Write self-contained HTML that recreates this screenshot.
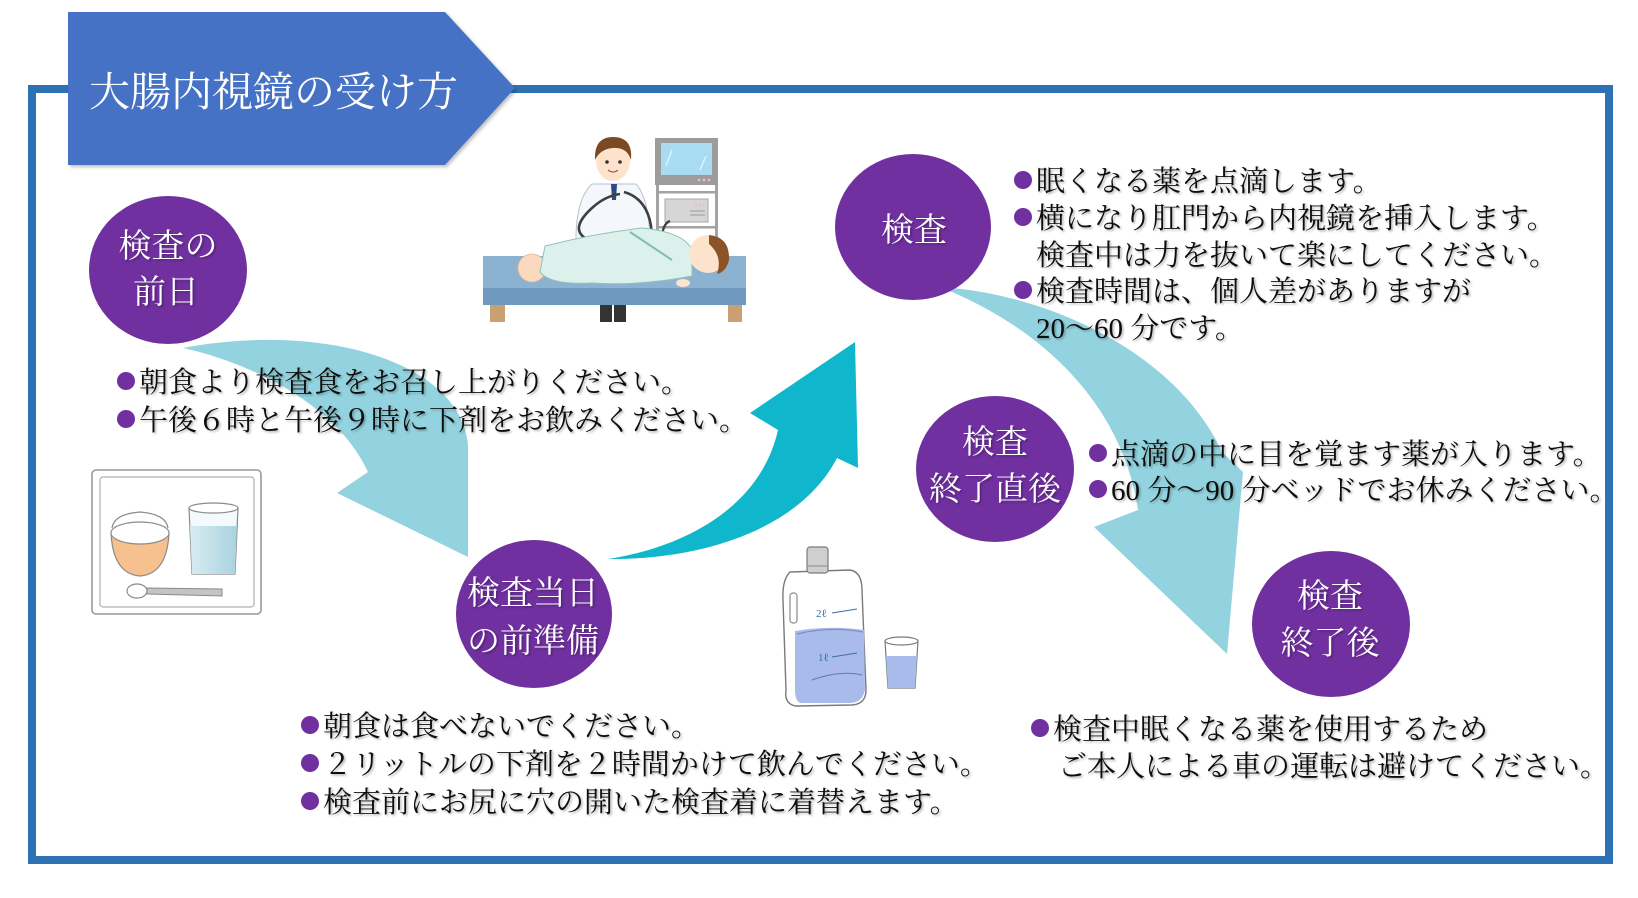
<!DOCTYPE html>
<html lang="ja">
<head>
<meta charset="utf-8">
<title>大腸内視鏡の受け方</title>
<style>
  html, body { margin: 0; padding: 0; background: #ffffff; }
  svg { display: block; }
  .body { font-family: "Liberation Serif", "Noto Serif CJK SC", serif; font-size: 29px; fill: #111; }
  .lbl { font-family: "Liberation Serif", "Noto Serif CJK SC", serif; font-size: 33px; fill: #ffffff; }
  .ttl { font-family: "Liberation Serif", "Noto Serif CJK SC", serif; font-size: 41px; fill: #ffffff; }
</style>
</head>
<body>
<svg width="1638" height="898" viewBox="0 0 1638 898" xmlns="http://www.w3.org/2000/svg">
  <defs>
    <filter id="sh" x="-5%" y="-20%" width="110%" height="140%">
      <feDropShadow dx="1.5" dy="1.5" stdDeviation="1" flood-color="#000" flood-opacity="0.3"/>
    </filter>
    <filter id="bs" x="-10%" y="-10%" width="120%" height="120%">
      <feDropShadow dx="2" dy="2" stdDeviation="1.5" flood-color="#000" flood-opacity="0.25"/>
    </filter>
    <linearGradient id="glassW" x1="0" y1="0" x2="1" y2="0">
      <stop offset="0" stop-color="#d7ecf2"/>
      <stop offset="1" stop-color="#a9d3e0"/>
    </linearGradient>
  </defs>

  <!-- outer frame -->
  <rect x="32" y="89" width="1577" height="771" fill="none" stroke="#2E72B4" stroke-width="8"/>

  <!-- title banner -->
  <polygon points="68,12 445,12 515,88 445,165 68,165" fill="#4472C4" filter="url(#bs)"/>
  <text class="ttl" x="89" y="106">大腸内視鏡の受け方</text>

  <!-- ===== arrows ===== -->
  <path d="M183,348 C320,322 460,360 468,445 L468,557 L337,493 L368,472 C340,410 260,365 183,348 Z" fill="#93D3DF"/>
  <path d="M608,559 C680,548 760,510 778,430 L750,413 L855,342 L858,468 L837,458 C800,530 700,560 608,559 Z" fill="#10B6CB"/>
  <path d="M940,287 C1060,295 1180,360 1222,452 L1243,472 L1227,654 L1094,527 L1138,510 C1125,420 1060,335 940,287 Z" fill="#93D3DF"/>

  <!-- ===== illustration: doctor & bed ===== -->
  <g>
    <!-- monitor -->
    <rect x="655" y="138" width="63" height="47" fill="#9c9c9c"/>
    <rect x="661" y="143" width="51" height="32" fill="#a9dcf3"/>
    <line x1="672" y1="150" x2="666" y2="166" stroke="#e6f6fd" stroke-width="1.2"/>
    <line x1="706" y1="156" x2="700" y2="170" stroke="#e6f6fd" stroke-width="1.2"/>
    <circle cx="699" cy="180" r="1.4" fill="#f3b7c7"/>
    <circle cx="704" cy="180" r="1.4" fill="#f3b7c7"/>
    <circle cx="709" cy="180" r="1.4" fill="#f3b7c7"/>
    <!-- cart -->
    <rect x="656" y="185" width="3" height="60" fill="#a3a3a3"/>
    <rect x="715" y="185" width="3" height="60" fill="#a3a3a3"/>
    <rect x="656" y="191" width="62" height="2.5" fill="#a3a3a3"/>
    <rect x="665" y="199" width="43" height="23" fill="#d6d6d6" stroke="#a9a9a9" stroke-width="1"/>
    <circle cx="696" cy="205" r="1.2" fill="#f3b7c7"/>
    <circle cx="700" cy="205" r="1.2" fill="#f3b7c7"/>
    <circle cx="704" cy="205" r="1.2" fill="#f3b7c7"/>
    <line x1="690" y1="211" x2="705" y2="211" stroke="#999" stroke-width="1"/>
    <line x1="690" y1="215" x2="705" y2="215" stroke="#999" stroke-width="1"/>
    <rect x="656" y="226" width="62" height="2.5" fill="#a3a3a3"/>
    <!-- doctor -->
    <path d="M592,184 L636,184 Q650,200 650,245 L576,245 Q575,200 592,184 Z" fill="#f4f7fb" stroke="#b7c1ce" stroke-width="1"/>
    <path d="M611,184 L617,184 L616,200 L612,200 Z" fill="#2b4a8a"/>
    <ellipse cx="613" cy="161" rx="17" ry="20" fill="#fde3cc"/>
    <path d="M595,160 Q594,137 613,137 Q633,137 631,160 Q627,147 613,148 Q600,149 595,160 Z" fill="#7b4a22"/>
    <circle cx="607" cy="162" r="1.8" fill="#333"/>
    <circle cx="620" cy="162" r="1.8" fill="#333"/>
    <path d="M608,170 Q613,174 618,170" fill="none" stroke="#b06050" stroke-width="1.2"/>
    <!-- scope cable -->
    <path d="M620,194 Q605,196 592,208 Q570,228 585,238 Q595,243 608,246" fill="none" stroke="#404040" stroke-width="2.6"/>
    <path d="M624,192 Q652,200 652,240" fill="none" stroke="#404040" stroke-width="2.6"/>
    <path d="M670,221 Q662,224 662,240" fill="none" stroke="#404040" stroke-width="2.4"/>
    <!-- bed -->
    <rect x="483" y="256" width="263" height="33" fill="#8cb2d2"/>
    <rect x="483" y="288" width="263" height="17" fill="#6f99bf"/>
    <rect x="490" y="305" width="15" height="17" fill="#c9a072"/>
    <rect x="728" y="305" width="14" height="17" fill="#c9a072"/>
    <rect x="600" y="305" width="12" height="17" fill="#333"/>
    <rect x="614" y="305" width="12" height="17" fill="#333"/>
    <!-- patient -->
    <ellipse cx="532" cy="268" rx="14" ry="14" fill="#fbd9bf" stroke="#e2b596" stroke-width="0.8"/>
    <path d="M545,246 Q592,234 642,228 Q684,232 692,250 L692,276 Q640,286 592,283 Q550,285 540,272 Z" fill="#dcf1ec" stroke="#8fc4bb" stroke-width="1"/>
    <line x1="630" y1="232" x2="672" y2="260" stroke="#7fbdb0" stroke-width="2"/>
    <circle cx="708" cy="254" r="19" fill="#fde3cc"/>
    <path d="M709,235 Q730,237 729,260 Q726,272 717,274 Q723,256 709,244 Z" fill="#8a5328"/>
    <ellipse cx="683" cy="283" rx="7" ry="4" fill="#fde3cc"/>
  </g>

  <!-- ===== illustration: tray ===== -->
  <g>
    <rect x="92" y="470" width="169" height="144" rx="4" fill="#ffffff" stroke="#9a9a9a" stroke-width="1.6"/>
    <rect x="100" y="477" width="154" height="130" rx="3" fill="none" stroke="#b0b0b0" stroke-width="1.2"/>
    <path d="M111,533 Q113,574 140,576 Q167,574 169,533 Z" fill="#f6c18f" stroke="#8a8a8a" stroke-width="1.2"/>
    <ellipse cx="140" cy="533" rx="29" ry="11" fill="#ffffff" stroke="#8a8a8a" stroke-width="1.2"/>
    <path d="M112,528 Q114,514 140,512 Q166,514 168,528" fill="none" stroke="#8a8a8a" stroke-width="1.2"/>
    <path d="M189,508 L192,574 L235,574 L238,508 Z" fill="#f4fafc" stroke="#8a8a8a" stroke-width="1.2"/>
    <path d="M190,526 L192,574 L235,574 L237,526 Z" fill="url(#glassW)"/>
    <ellipse cx="213.5" cy="508" rx="24.5" ry="5" fill="#ffffff" stroke="#8a8a8a" stroke-width="1.2"/>
    <ellipse cx="137" cy="591" rx="10" ry="7" fill="#ffffff" stroke="#8a8a8a" stroke-width="1.2"/>
    <path d="M147,588 L222,589 L222,596 L147,594 Z" fill="#c4c4c4" stroke="#8a8a8a" stroke-width="1"/>
  </g>

  <!-- ===== illustration: laxative bag ===== -->
  <g>
    <path d="M790,572 L850,570 Q862,572 862,590 L866,690 Q866,704 852,705 L796,706 Q784,704 786,690 L783,600 Q782,580 790,572 Z" fill="#ffffff" stroke="#7a7a7a" stroke-width="1.4"/>
    <path d="M795,631 Q830,625 864,630 L865,690 Q862,703 850,703 L800,703 Q795,700 795,690 Z" fill="#a9bbea"/>
    <path d="M797,634 Q830,626 863,632" fill="none" stroke="#7b8fc4" stroke-width="1.2"/>
    <path d="M812,680 Q840,670 862,675" fill="none" stroke="#6a7fb6" stroke-width="1.2"/>
    <rect x="790" y="593" width="7" height="30" rx="3" fill="none" stroke="#8a8a8a" stroke-width="1.2"/>
    <rect x="807" y="547" width="21" height="26" rx="3" fill="#cfcfcf" stroke="#7a7a7a" stroke-width="1.2"/>
    <line x1="807" y1="566" x2="828" y2="566" stroke="#8a8a8a" stroke-width="1"/>
    <text x="816" y="617" font-family="Liberation Serif, serif" font-size="11" fill="#3a6ea8">2ℓ</text>
    <line x1="832" y1="613" x2="857" y2="609" stroke="#3a6ea8" stroke-width="1"/>
    <text x="818" y="661" font-family="Liberation Serif, serif" font-size="11" fill="#3a6ea8">1ℓ</text>
    <line x1="832" y1="657" x2="857" y2="653" stroke="#3a6ea8" stroke-width="1"/>
    <path d="M885,641 L888,688 L915,688 L918,641 Z" fill="#ffffff" stroke="#7a7a7a" stroke-width="1.2"/>
    <path d="M886,656 L888,688 L915,688 L917,656 Z" fill="#a9bbea"/>
    <ellipse cx="901.5" cy="641" rx="16.5" ry="4" fill="#ffffff" stroke="#7a7a7a" stroke-width="1.2"/>
  </g>

  <!-- ===== circles ===== -->
  <g fill="#7030A0">
    <ellipse cx="168" cy="270" rx="79" ry="74"/>
    <ellipse cx="534" cy="614" rx="78" ry="74"/>
    <ellipse cx="913" cy="227" rx="78" ry="73"/>
    <ellipse cx="995" cy="469" rx="79" ry="73"/>
    <ellipse cx="1331" cy="624" rx="79" ry="73"/>
  </g>
  <g class="lbl" text-anchor="middle" filter="url(#sh)">
    <text x="168" y="257">検査の</text>
    <text x="166" y="303">前日</text>
    <text x="533" y="604">検査当日</text>
    <text x="533" y="652">の前準備</text>
    <text x="914" y="241">検査</text>
    <text x="995" y="453">検査</text>
    <text x="995" y="500">終了直後</text>
    <text x="1330" y="607">検査</text>
    <text x="1330" y="654">終了後</text>
  </g>

  <!-- ===== bullets ===== -->
  <g fill="#7030A0">
    <circle cx="126" cy="381" r="9"/>
    <circle cx="126" cy="419" r="9"/>
    <circle cx="310" cy="725" r="9"/>
    <circle cx="310" cy="763" r="9"/>
    <circle cx="310" cy="801" r="9"/>
    <circle cx="1023" cy="180" r="9"/>
    <circle cx="1023" cy="217" r="9"/>
    <circle cx="1023" cy="290" r="9"/>
    <circle cx="1098" cy="453" r="9"/>
    <circle cx="1098" cy="489" r="9"/>
    <circle cx="1040" cy="728" r="9"/>
  </g>

  <!-- ===== body text ===== -->
  <g class="body" filter="url(#sh)">
    <text x="139" y="392">朝食より検査食をお召し上がりください。</text>
    <text x="139" y="430">午後６時と午後９時に下剤をお飲みください。</text>
    <text x="323" y="736">朝食は食べないでください。</text>
    <text x="323" y="774">２リットルの下剤を２時間かけて飲んでください。</text>
    <text x="323" y="812">検査前にお尻に穴の開いた検査着に着替えます。</text>
    <text x="1036" y="191">眠くなる薬を点滴します。</text>
    <text x="1036" y="228">横になり肛門から内視鏡を挿入します。</text>
    <text x="1036" y="265">検査中は力を抜いて楽にしてください。</text>
    <text x="1036" y="301">検査時間は、個人差がありますが</text>
    <text x="1036" y="338">20～60 分です。</text>
    <text x="1111" y="464">点滴の中に目を覚ます薬が入ります。</text>
    <text x="1111" y="500">60 分～90 分ベッドでお休みください。</text>
    <text x="1053" y="739">検査中眠くなる薬を使用するため</text>
    <text x="1058" y="776">ご本人による車の運転は避けてください。</text>
  </g>
</svg>
</body>
</html>
